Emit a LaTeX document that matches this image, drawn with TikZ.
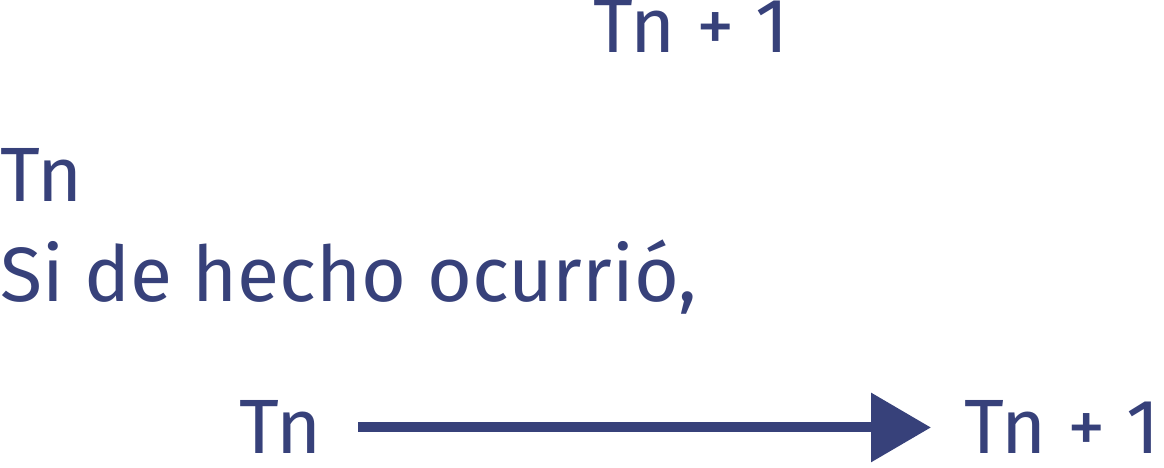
\documentclass[tikz,border=0pt]{standalone}
\usepackage{fontspec}
\setmainfont{Fira Sans}
\usetikzlibrary{arrows.meta}
\definecolor{tinta}{RGB}{55,65,122}

\begin{document}
\begin{tikzpicture}[x=1pt,y=1pt]
\tikzstyle{every node}+=[inner sep=0pt,anchor=base west,text=tinta,font=\fontsize{77}{80}\selectfont]
\useasboundingbox (0,0) rectangle (1164,468);
\node (tnsup) at (593,415) {Tn + 1};
\node (tn) at (0,266) {Tn};
\node (frase) at (0,166) {Si de hecho ocurrió,};
\node (tnizq) at (239,14) {Tn};
\node (tnder) at (964,14) {Tn + 1};
\draw [tinta,line width=10pt,shorten <=36pt,shorten >=33pt,-{Triangle[length=60pt,width=67pt]}] (tnizq.east) -- (tnder.west);
\end{tikzpicture}
\end{document}
